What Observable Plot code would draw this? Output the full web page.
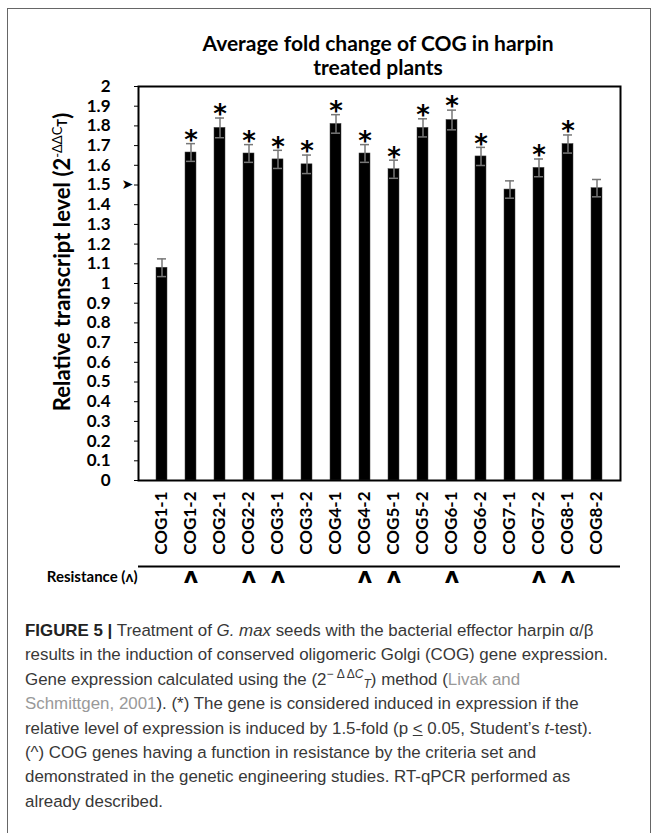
<!DOCTYPE html>
<html>
<head>
<meta charset="utf-8">
<script src="https://cdn.jsdelivr.net/npm/d3@7"></script>
<script src="https://cdn.jsdelivr.net/npm/@observablehq/plot@0.6"></script>
<style>
  html, body { margin: 0; padding: 0; background: #fff; }
  #root { position: relative; width: 657px; height: 833px; overflow: hidden; background: #fff; }
  #box { position: absolute; left: 7px; top: 8px; width: 644px; height: 900px; border: 1px solid #666; box-sizing: border-box; }
  #title { position: absolute; left: 100px; width: 556px; top: 31px; text-align: center;
           font-family: Lato, sans-serif; font-weight: bold; font-size: 21px; line-height: 24px; color: #000; }
  #chart { position: absolute; left: 0; top: 60px; }
  #caption { position: absolute; left: 25px; top: 619px; width: 625px;
             font-family: "Liberation Sans", Arial, sans-serif; font-size: 16.9px; line-height: 24.4px; color: #383838; white-space: nowrap; }
  #caption b { color: #222; }
  #caption .ref { color: #999; }
</style>
</head>
<body>
<div id="root">
  <div id="box"></div>
  <div id="title">Average fold change of COG in harpin<br>treated plants</div>
  <div id="chart"></div>
  <div id="caption">
    <b>FIGURE 5 |</b> Treatment of <i>G. max</i> seeds with the bacterial effector harpin α/β<br>
    results in the induction of conserved oligomeric Golgi (COG) gene expression.<br>
    Gene expression calculated using the (2<sup style="font-size:12px;vertical-align:7px;line-height:0">− Δ Δ<i>C</i></sup><sub style="font-size:12px;vertical-align:-3px;line-height:0"><i>T</i></sub>) method (<span class="ref">Livak and</span><br>
    <span class="ref">Schmittgen, 2001</span>). (*) The gene is considered induced in expression if the<br>
    relative level of expression is induced by 1.5-fold (p <span style="text-decoration:underline">&lt;</span> 0.05, Student’s <i>t</i>-test).<br>
    (^) COG genes having a function in resistance by the criteria set and<br>
    demonstrated in the genetic engineering studies. RT-qPCR performed as<br>
    already described.
  </div>
</div>
<script>
const genes = ["COG1-1","COG1-2","COG2-1","COG2-2","COG3-1","COG3-2","COG4-1","COG4-2",
               "COG5-1","COG5-2","COG6-1","COG6-2","COG7-1","COG7-2","COG8-1","COG8-2"];
const values = [1.08, 1.665, 1.79, 1.66, 1.63, 1.605, 1.81, 1.66,
                1.58, 1.79, 1.83, 1.645, 1.477, 1.587, 1.708, 1.484];
const errors = [0.045, 0.045, 0.05, 0.045, 0.046, 0.047, 0.047, 0.045,
                0.046, 0.046, 0.05, 0.046, 0.044, 0.045, 0.046, 0.044];
const significant = [false, true, true, true, true, true, true, true,
                     true, true, true, true, false, true, true, false];
const resistance = [false, true, false, true, true, false, false, true,
                    true, false, true, false, false, true, true, false];
const yTicks = [0, 0.1, 0.2, 0.3, 0.4, 0.5, 0.6, 0.7, 0.8, 0.9, 1,
                1.1, 1.2, 1.3, 1.4, 1.5, 1.6, 1.7, 1.8, 1.9, 2];
const threshold = [1.5];
const resistanceLabel = ["Resistance (ʌ)"];

const rows = genes.map((g, i) => ({gene: g, value: values[i], err: errors[i], sig: significant[i], res: resistance[i]}));

const plot = Plot.plot({
  width: 657,
  height: 540,
  marginLeft: 138,
  marginRight: 37,
  marginTop: 26,
  marginBottom: 120,
  style: {fontFamily: "Lato, sans-serif", fontWeight: "bold", fontSize: "16px", color: "#000", background: "transparent"},
  x: {domain: genes, padding: 0.61, label: null, tickRotate: -90, tickSize: 0, tickPadding: 11},
  y: {domain: [0, 2], ticks: yTicks, tickFormat: d => String(+d.toFixed(1)), label: null, tickSize: 4, tickPadding: 24},
  marks: [
    Plot.barY(rows, {x: "gene", y: "value", fill: "#000", stroke: "#444", strokeWidth: 0.5}),
    Plot.ruleX(rows, {x: "gene", y1: d => d.value - d.err, y2: d => d.value + d.err, stroke: "#777", strokeWidth: 1.5}),
    Plot.tickY(rows, {x: "gene", y: d => d.value + d.err, stroke: "#777", strokeWidth: 1.5, insetLeft: 1, insetRight: 1}),
    Plot.tickY(rows, {x: "gene", y: d => d.value - d.err, stroke: "#777", strokeWidth: 1.5, insetLeft: 1, insetRight: 1}),
    Plot.text(rows.filter(d => d.sig), {x: "gene", y: d => d.value + d.err, text: () => "*", dy: -3,
      fontSize: 26, fontWeight: "bold", fontFamily: "DejaVu Sans", fill: "#000"}),
    Plot.frame({stroke: "#000", strokeWidth: 2}),
    Plot.text(threshold, {y: d => d, frameAnchor: "left", dx: -17, text: () => "➤", fontSize: 14, fontFamily: "DejaVu Sans", fill: "#000"}),
    Plot.ruleY([0], {dy: 86, stroke: "#000", strokeWidth: 2}),
    Plot.text(rows.filter(d => d.res), {x: "gene", frameAnchor: "bottom", dy: 102, text: () => "ʌ",
      fontSize: 22, fontWeight: "bold", fontFamily: "DejaVu Sans", fill: "#000"}),
    Plot.text(resistanceLabel, {frameAnchor: "bottom-left", dy: 101, dx: -1, textAnchor: "end", text: d => d,
      fontSize: 15, fontWeight: "bold", fill: "#000"})
  ]
});

// larger tick labels
d3.select(plot).selectAll("g[aria-label='x-axis tick label'] text").attr("font-size", 17);
d3.select(plot).selectAll("g[aria-label='y-axis tick label'] text").attr("font-size", 17);

// rich y-axis label with superscript/subscript
const svg = d3.select(plot);
const lab = svg.append("text")
  .attr("transform", "translate(70,202) rotate(-90)")
  .attr("text-anchor", "middle")
  .attr("font-family", "Lato, sans-serif")
  .attr("font-weight", "bold")
  .attr("font-size", 22)
  .attr("fill", "#000");
lab.append("tspan").text("Relative transcript level (2");
lab.append("tspan").attr("font-size", 13).attr("font-weight", "normal").attr("dy", -8).text("-ΔΔC");
lab.append("tspan").attr("font-size", 13).attr("dy", 5).text("T");
lab.append("tspan").attr("dy", 3).text(")");

document.getElementById("chart").appendChild(plot);
</script>
</body>
</html>
